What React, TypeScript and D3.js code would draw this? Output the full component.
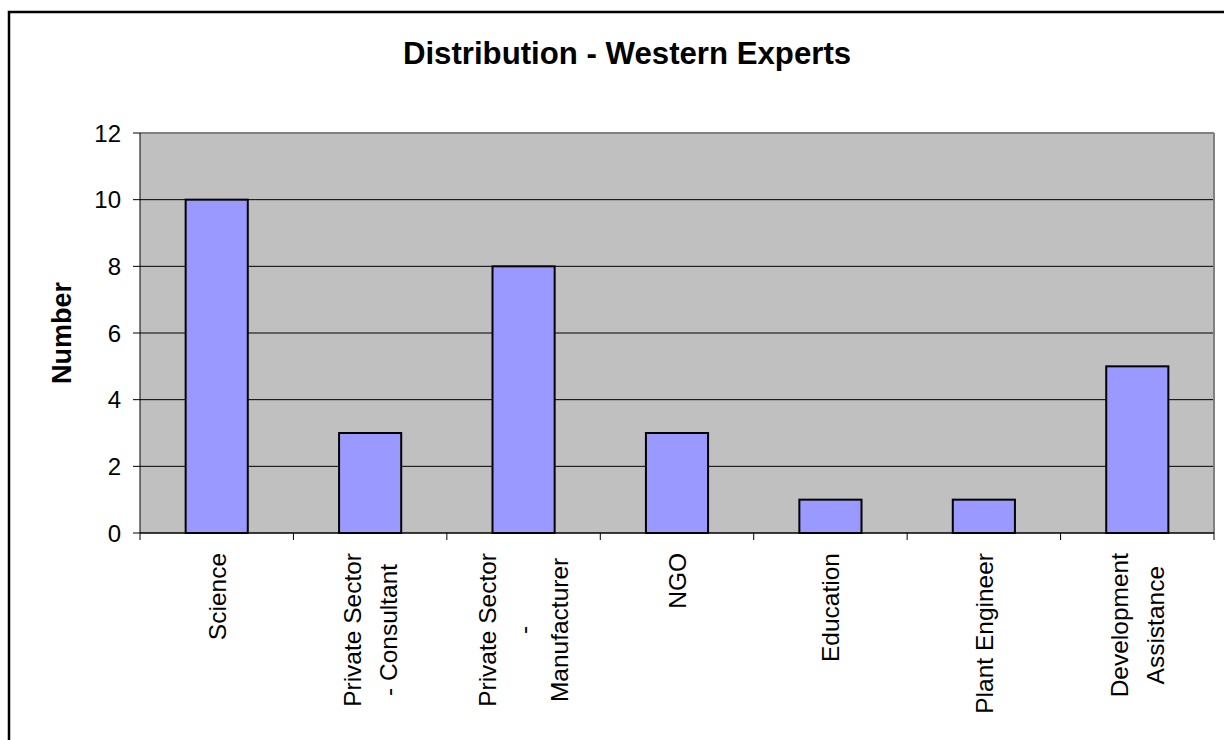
import React from "react";
import * as d3 from "d3";

const categories: string[][] = [
  ["Science"],
  ["Private Sector", "- Consultant"],
  ["Private Sector", "-", "Manufacturer"],
  ["NGO"],
  ["Education"],
  ["Plant Engineer"],
  ["Development", "Assistance"],
];
const counts: number[] = [10, 3, 8, 3, 1, 1, 5];
const yTicks: number[] = [0, 2, 4, 6, 8, 10, 12];
const title = "Distribution - Western Experts";
const yTitle = "Number";

const W = 1224;
const H = 740;
const plot = { left: 140, right: 1214, top: 133, bottom: 533 };
const FONT = "Arial, 'Liberation Sans', Helvetica, sans-serif";
const LABEL_SIZE = 24.5;
const LINE_STEP = 36;

function measure(text: string, size: number): number {
  const c = document.createElement("canvas").getContext("2d");
  if (!c) return text.length * size * 0.5;
  c.font = `${size}px 'Liberation Sans', Arial, sans-serif`;
  return c.measureText(text).width;
}

export default function App() {
  const idx = categories.map((_, i) => i);
  const x = d3
    .scaleBand<number>()
    .domain(idx)
    .range([plot.left, plot.right])
    .paddingInner(0)
    .paddingOuter(0);
  const y = d3.scaleLinear().domain([0, 12]).range([plot.bottom, plot.top]);
  const bw = x.bandwidth();
  const barW = bw * 0.405;
  const labelTop = 553;

  return (
    <svg
      width={W}
      height={H}
      style={{ position: "absolute", left: 0, top: 0, background: "#fff" }}
      fontFamily={FONT}
    >
      <rect x={0} y={0} width={W} height={H} fill="#fff" />
      {/* outer chart frame */}
      <rect x={9} y={12} width={W + 20} height={H + 20} fill="none" stroke="#000" strokeWidth={2.5} />

      <text x={627} y={64} textAnchor="middle" fontSize={31.2} fontWeight="bold">
        {title}
      </text>

      {/* plot area */}
      <rect
        x={plot.left}
        y={plot.top}
        width={plot.right - plot.left}
        height={plot.bottom - plot.top}
        fill="#C0C0C0"
      />
      {yTicks.slice(1, -1).map((t) => (
        <line key={t} x1={plot.left} x2={plot.right} y1={y(t)} y2={y(t)} stroke="#000" strokeWidth={1} />
      ))}
      <line x1={plot.left} x2={plot.right} y1={plot.top} y2={plot.top} stroke="#808080" strokeWidth={2} />
      <line x1={plot.right} x2={plot.right} y1={plot.top} y2={plot.bottom} stroke="#808080" strokeWidth={2} />

      {/* bars */}
      {counts.map((v, i) => {
        const cx = (x(i) as number) + bw / 2;
        return (
          <rect
            key={i}
            x={cx - barW / 2}
            y={y(v)}
            width={barW}
            height={y(0) - y(v)}
            fill="#9999FF"
            stroke="#000"
            strokeWidth={2}
          />
        );
      })}

      {/* axes */}
      <line x1={plot.left} x2={plot.left} y1={plot.top} y2={plot.bottom} stroke="#000" strokeWidth={1} />
      <line x1={plot.left} x2={plot.right} y1={plot.bottom} y2={plot.bottom} stroke="#000" strokeWidth={1.5} />
      {yTicks.map((t) => (
        <g key={t}>
          <line x1={plot.left - 7} x2={plot.left} y1={y(t)} y2={y(t)} stroke="#000" strokeWidth={1} />
          <text x={121} y={y(t)} dy="0.36em" textAnchor="end" fontSize={24}>
            {t}
          </text>
        </g>
      ))}
      {d3.range(categories.length + 1).map((k) => {
        const xx = plot.left + k * bw;
        return <line key={k} x1={xx} x2={xx} y1={plot.bottom} y2={plot.bottom + 7} stroke="#000" strokeWidth={1} />;
      })}

      {/* category labels */}
      {categories.map((lines, i) => {
        const cx = (x(i) as number) + bw / 2;
        const widest = Math.max(...lines.map((l) => measure(l, LABEL_SIZE)));
        const cy = labelTop + widest / 2;
        return (
          <g key={i}>
            {lines.map((l, j) => {
              const lx = cx + (j - (lines.length - 1) / 2) * LINE_STEP;
              return (
                <text
                  key={j}
                  transform={`translate(${lx},${cy}) rotate(-90)`}
                  textAnchor="middle"
                  dy="0.36em"
                  fontSize={LABEL_SIZE}
                >
                  {l}
                </text>
              );
            })}
          </g>
        );
      })}

      <text
        transform={`translate(61,${(plot.top + plot.bottom) / 2}) rotate(-90)`}
        textAnchor="middle"
        dy="0.36em"
        fontSize={27}
        fontWeight="bold"
      >
        {yTitle}
      </text>
    </svg>
  );
}
